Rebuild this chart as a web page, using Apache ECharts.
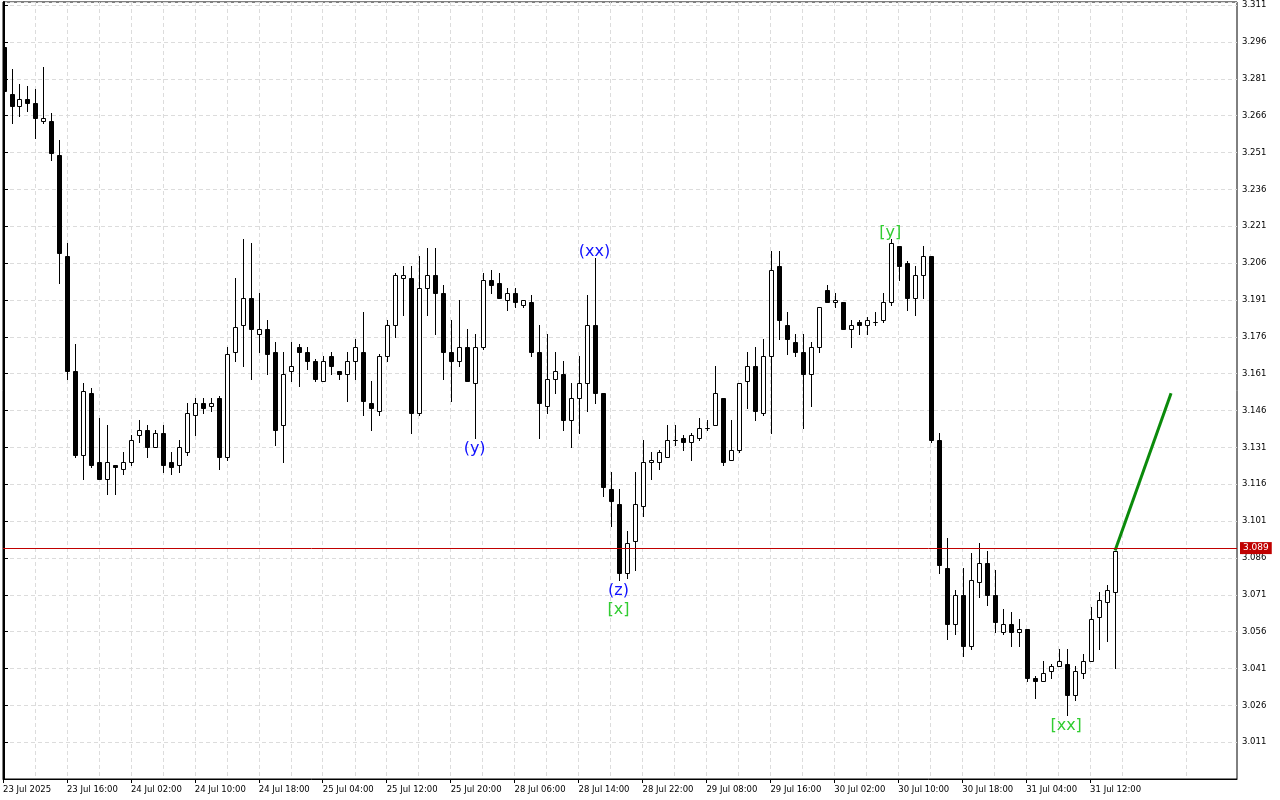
<!DOCTYPE html>
<html>
<head>
<meta charset="utf-8">
<script src="https://cdn.jsdelivr.net/npm/echarts@6/dist/echarts.min.js"></script>
<style>html,body{margin:0;padding:0;background:#fff}#c{width:1280px;height:800px}</style>
</head>
<body>
<div id="c"></div>
<script>
// ---- data ----
const tickLabels = ["23 Jul 2025","23 Jul 16:00","24 Jul 02:00","24 Jul 10:00","24 Jul 18:00","25 Jul 04:00","25 Jul 12:00","25 Jul 20:00","28 Jul 06:00","28 Jul 14:00","28 Jul 22:00","29 Jul 08:00","29 Jul 16:00","30 Jul 02:00","30 Jul 10:00","30 Jul 18:00","31 Jul 04:00","31 Jul 12:00"];

const opens = [3.294,3.275,3.270,3.273,3.271,3.264,3.264,3.250,3.209,3.162,
3.128,3.153,3.125,3.118,3.124,3.122,3.125,3.136,3.138,3.131,
3.137,3.125,3.124,3.129,3.144,3.149,3.148,3.151,3.127,3.170,
3.181,3.192,3.177,3.179,3.170,3.140,3.162,3.172,3.170,3.166,
3.158,3.168,3.162,3.161,3.166,3.170,3.149,3.146,3.168,3.181,
3.200,3.200,3.145,3.196,3.201,3.194,3.170,3.166,3.172,3.157,
3.172,3.199,3.198,3.191,3.194,3.189,3.190,3.170,3.148,3.159,
3.161,3.142,3.151,3.157,3.181,3.153,3.114,3.108,3.080,3.093,
3.107,3.125,3.125,3.127,3.134,3.135,3.133,3.135,3.139,3.140,
3.151,3.126,3.130,3.158,3.164,3.145,3.168,3.205,3.181,3.174,
3.170,3.161,3.172,3.195,3.190,3.190,3.179,3.182,3.181,3.182,
3.183,3.190,3.213,3.206,3.192,3.201,3.209,3.134,3.082,3.059,
3.071,3.050,3.076,3.084,3.071,3.056,3.059,3.056,3.057,3.037,
3.036,3.040,3.042,3.043,3.030,3.039,3.044,3.062,3.068,3.072];

const highs = [3.295,3.285,3.279,3.278,3.277,3.286,3.267,3.256,3.214,3.173,
3.157,3.155,3.143,3.140,3.124,3.129,3.136,3.142,3.140,3.138,
3.140,3.129,3.134,3.149,3.151,3.151,3.151,3.152,3.172,3.200,
3.216,3.214,3.194,3.183,3.174,3.170,3.174,3.173,3.172,3.167,
3.168,3.170,3.162,3.170,3.175,3.186,3.158,3.169,3.183,3.202,
3.205,3.205,3.209,3.212,3.212,3.197,3.183,3.191,3.179,3.177,
3.202,3.203,3.202,3.196,3.196,3.191,3.193,3.181,3.177,3.170,
3.166,3.157,3.168,3.193,3.208,3.153,3.121,3.114,3.097,3.121,
3.134,3.129,3.130,3.140,3.140,3.136,3.137,3.143,3.142,3.164,
3.151,3.142,3.157,3.170,3.172,3.175,3.211,3.211,3.186,3.177,
3.177,3.174,3.188,3.197,3.194,3.190,3.183,3.183,3.184,3.186,
3.194,3.216,3.213,3.207,3.205,3.213,3.209,3.137,3.094,3.073,
3.082,3.088,3.092,3.089,3.081,3.065,3.064,3.061,3.057,3.038,
3.044,3.043,3.049,3.049,3.042,3.047,3.066,3.072,3.075,3.089];

const lows = [3.275,3.263,3.266,3.268,3.257,3.263,3.248,3.198,3.159,3.127,
3.118,3.123,3.118,3.112,3.112,3.120,3.124,3.133,3.127,3.131,
3.121,3.120,3.121,3.128,3.136,3.145,3.146,3.122,3.126,3.166,
3.164,3.159,3.170,3.161,3.132,3.125,3.158,3.156,3.163,3.158,
3.158,3.161,3.159,3.150,3.159,3.144,3.138,3.144,3.166,3.176,
3.185,3.137,3.144,3.185,3.177,3.159,3.150,3.164,3.158,3.135,
3.171,3.194,3.192,3.187,3.188,3.188,3.168,3.135,3.145,3.153,
3.138,3.131,3.137,3.146,3.149,3.111,3.099,3.077,3.078,3.081,
3.103,3.118,3.122,3.127,3.132,3.130,3.126,3.134,3.138,3.140,
3.124,3.126,3.129,3.147,3.142,3.144,3.137,3.175,3.169,3.168,
3.139,3.148,3.170,3.190,3.188,3.179,3.172,3.177,3.177,3.181,
3.182,3.189,3.199,3.187,3.185,3.192,3.133,3.080,3.053,3.055,
3.046,3.049,3.070,3.067,3.056,3.055,3.050,3.050,3.036,3.029,
3.036,3.037,3.042,3.022,3.028,3.037,3.044,3.049,3.052,3.041];

const closes = [3.276,3.270,3.273,3.271,3.265,3.265,3.251,3.210,3.162,3.128,
3.154,3.124,3.118,3.125,3.123,3.125,3.134,3.138,3.131,3.137,
3.124,3.123,3.131,3.145,3.149,3.147,3.149,3.127,3.169,3.180,
3.192,3.179,3.179,3.169,3.138,3.161,3.164,3.170,3.166,3.159,
3.166,3.164,3.161,3.166,3.172,3.150,3.147,3.168,3.181,3.201,
3.201,3.145,3.196,3.201,3.194,3.170,3.166,3.172,3.158,3.172,
3.199,3.197,3.192,3.194,3.190,3.191,3.170,3.149,3.159,3.162,
3.142,3.151,3.157,3.181,3.153,3.115,3.109,3.080,3.092,3.108,
3.125,3.126,3.129,3.134,3.134,3.133,3.136,3.139,3.139,3.153,
3.125,3.130,3.157,3.164,3.146,3.168,3.203,3.183,3.175,3.170,
3.161,3.172,3.188,3.190,3.191,3.179,3.181,3.181,3.183,3.182,
3.190,3.214,3.205,3.192,3.201,3.209,3.134,3.083,3.059,3.071,
3.050,3.077,3.084,3.071,3.060,3.059,3.056,3.057,3.037,3.036,
3.039,3.042,3.044,3.030,3.040,3.044,3.061,3.069,3.073,3.089];

// projected move (green line) : [bar index, price]
const projection = [[146, 3.153]];

// wave labels
const annoText  = ["(xx)", "(y)", "(z)", "[x]", "[y]", "[xx]"];
const annoBar   = [74, 59, 77, 77, 111, 133];
const annoSide  = ["high", "low", "low", "low", "high", "low"];
const annoRow   = [0, 0, 0, 1, 0, 0];
const annoDegree = ["minor", "minor", "minor", "major", "major", "major"];

// ---- chart ----
const FONT = '"DejaVu Sans", sans-serif';
const GRIDCOL = '#dcdcdc';
const N = closes.length;
const candleData = opens.map((o, i) => [i, o, closes[i], lows[i], highs[i]]);
const lastClose = closes[N - 1];
const projData = [[N - 1, lastClose]].concat(projection);
const annoData = annoText.map((t, k) => {
  const b = annoBar[k];
  const p = annoSide[k] === 'high' ? highs[b] : lows[b];
  return [b, p, annoSide[k] === 'high' ? -1 : 1, annoRow[k], k];
});
const tickVals = tickLabels.map((_, k) => k * 8 - 0.125);

function renderCandle(params, api) {
  const i = api.value(0), o = api.value(1), c = api.value(2), l = api.value(3), h = api.value(4);
  const pO = api.coord([i, o]), pC = api.coord([i, c]);
  const pH = api.coord([i, h]), pL = api.coord([i, l]);
  const cx = Math.floor(pO[0] + 0.01);
  const xm = cx + 0.5;
  const t = Math.round(Math.min(pO[1], pC[1]));
  const b = Math.round(Math.max(pO[1], pC[1]));
  const yh = Math.round(pH[1]), yl = Math.round(pL[1]);
  const bull = c >= o;
  return {
    type: 'group',
    children: [
      { type: 'line', shape: { x1: xm, y1: yh, x2: xm, y2: yl + 1 },
        style: { stroke: '#000', lineWidth: 1 } },
      { type: 'rect', shape: { x: cx - 1.5, y: t + 0.5, width: 4, height: b - t },
        style: { fill: bull ? '#fff' : '#000', stroke: '#000', lineWidth: 1 } }
    ]
  };
}

function renderAnno(params, api) {
  const b = api.value(0), p = api.value(1), dir = api.value(2), row = api.value(3), k = api.value(4);
  const pt = api.coord([b, p]);
  const y = pt[1] + (dir < 0 ? -6 : 11) + dir * row * 19;
  const major = annoDegree[k] === 'major';
  return {
    type: 'text',
    x: pt[0] - 1, y: y,
    style: {
      text: annoText[k], font: '16px ' + FONT,
      fill: major ? '#32cd32' : '#1010ff',
      align: 'center', verticalAlign: 'middle',
      textAlign: 'center', textVerticalAlign: 'middle'
    }
  };
}

const chart = echarts.init(document.getElementById('c'), null, { renderer: 'canvas' });
chart.setOption({
  animation: false,
  backgroundColor: '#fff',
  grid: { left: 2, right: 43, top: 2, bottom: 21, show: true, borderColor: '#000', borderWidth: 1, backgroundColor: 'transparent' },
  xAxis: {
    type: 'value', min: -0.125, max: 154.25, interval: 8,
    axisLine: { show: true, onZero: false, lineStyle: { color: '#000', width: 1 } },
    axisTick: { show: true, customValues: tickVals, length: 4, lineStyle: { color: '#000' } },
    axisLabel: {
      customValues: tickVals, align: 'left', margin: 6, fontSize: 8.5, fontFamily: FONT, color: '#000',
      formatter: v => { const k = Math.round((v + 0.125) / 8); return tickLabels[k] || ''; }
    },
    splitLine: { show: true, lineStyle: { color: GRIDCOL, type: [4, 3], width: 1 } },
    minorTick: { show: false, splitNumber: 2 },
    minorSplitLine: { show: true, lineStyle: { color: GRIDCOL, type: [4, 3], width: 1 } }
  },
  yAxis: {
    type: 'value', position: 'right', min: 2.996, max: 3.3123, interval: 0.015,
    axisLine: { show: true, lineStyle: { color: '#000', width: 2 } },
    axisTick: { show: true, length: 4, lineStyle: { color: '#000' } },
    axisLabel: { margin: 5, fontSize: 8.5, fontFamily: FONT, color: '#000',
      showMinLabel: false, showMaxLabel: false, formatter: v => v.toFixed(3) },
    splitLine: { show: true, lineStyle: { color: GRIDCOL, type: [4, 3], width: 1 } }
  },
  series: [
    { type: 'custom', name: 'candles', data: candleData, renderItem: renderCandle, clip: true,
      encode: { x: 0, y: [1, 2, 3, 4] }, z: 3 },
    { type: 'line', name: 'projection', data: projData, symbol: 'none', z: 4,
      lineStyle: { color: '#0b8a0b', width: 3 },
      markLine: {
        silent: true, symbol: ['none', 'none'], animation: false,
        data: [{ yAxis: lastClose }],
        lineStyle: { color: '#c00000', width: 1, type: 'solid' },
        label: { position: 'end', distance: 3, formatter: () => lastClose.toFixed(3),
          backgroundColor: '#c00000', color: '#fff', fontSize: 9, fontFamily: FONT, padding: [2, 3, 1, 3] }
      } },
    { type: 'custom', name: 'waves', data: annoData, renderItem: renderAnno, clip: false,
      encode: { x: 0, y: 1 }, z: 5 }
  ]
});
</script>
</body>
</html>
